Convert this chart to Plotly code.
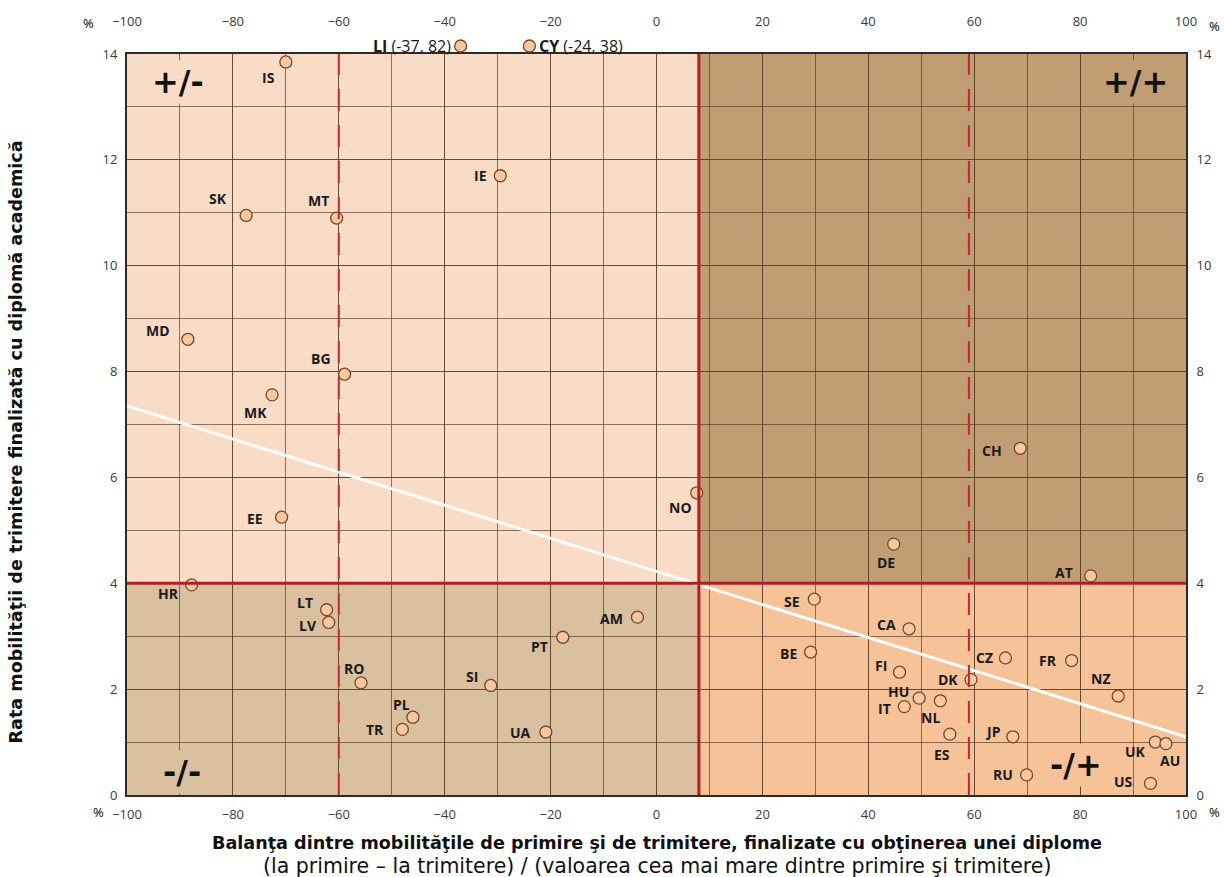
import plotly.graph_objects as go

# --- data -----------------------------------------------------------------
countries = ["IS", "IE", "SK", "MT", "MD", "BG", "MK", "EE", "HR", "LT", "LV",
             "RO", "SI", "PL", "TR", "UA", "AM", "PT", "NO", "SE", "BE", "DE",
             "CH", "AT", "CA", "CZ", "FR", "FI", "DK", "HU", "NL", "IT", "ES",
             "JP", "NZ", "UK", "AU", "RU", "US"]
balance = [-70, -29.5, -77.5, -60.4, -88.5, -58.9, -72.6, -70.8, -87.8, -62.3, -61.9,
           -55.8, -31.3, -46.0, -48.0, -20.9, -3.6, -17.7, 7.6, 29.8, 29.1, 44.8,
           68.7, 82.0, 47.7, 65.9, 78.4, 45.9, 59.4, 49.6, 53.6, 46.8, 55.4,
           67.3, 87.2, 94.2, 96.2, 69.9, 93.3]
send_rate = [13.85, 11.7, 10.95, 10.9, 8.61, 7.95, 7.56, 5.25, 3.97, 3.5, 3.26,
             2.12, 2.07, 1.47, 1.24, 1.19, 3.36, 2.98, 5.71, 3.70, 2.70, 4.74,
             6.55, 4.14, 3.14, 2.59, 2.54, 2.32, 2.18, 1.83, 1.78, 1.67, 1.15,
             1.10, 1.87, 1.00, 0.97, 0.38, 0.22]

# countries whose send rate lies beyond the y range
off_countries = ["LI", "CY"]
off_balance = [-37, -24]
off_send_rate = [82, 38]

# fitted trend line
trend_x = [-100, 100]
trend_y = [7.35, 1.1]

x_ticks = [-100, -80, -60, -40, -20, 0, 20, 40, 60, 80, 100]
y_ticks = [0, 2, 4, 6, 8, 10, 12, 14]

X_RANGE = [-100, 100]
Y_RANGE = [0, 14]
X_SPLIT = 8          # solid vertical divider
Y_SPLIT = 4          # solid horizontal divider
X_DASHED = [-60, 59]  # dashed vertical guides

# --- styling ----------------------------------------------------------------
C_TL = "#F9DCC5"
C_TR = "#C19E72"
C_BL = "#D9C09E"
C_BR = "#F6C398"
RED = "#B31E24"
RED_DASH = "#C3282E"
GRID = "rgba(85,55,30,0.65)"
MARKER_FILL = "#F7C7A0"
MARKER_LINE = "#74492B"
TICK_FONT = dict(family="Open Sans", size=13, color="#3a3a3a")
LABEL_FONT = dict(family="Open Sans", size=14, color="#1a1a1a", weight="bold")

# label offsets in pixels (dx right, dy down) from each marker
label_offset = {
    "IS": (-17, 16), "IE": (-20, 0), "SK": (-28, -17), "MT": (-18, -18),
    "MD": (-30, -9), "BG": (-24, -16), "MK": (-17, 18), "EE": (-27, 1),
    "HR": (-23, 9), "LT": (-22, -7), "LV": (-21, 3), "RO": (-7, -14),
    "SI": (-19, -9), "PL": (-11, -13), "TR": (-27, 0), "UA": (-25, 0),
    "AM": (-26, 1), "PT": (-23, 9), "NO": (-16, 15), "SE": (-22, 2),
    "BE": (-22, 1), "DE": (-8, 18), "CH": (-28, 2), "AT": (-27, -3),
    "CA": (-23, -4), "CZ": (-21, 0), "FR": (-24, 0), "FI": (-19, -7),
    "DK": (-23, 0), "HU": (-21, -7), "NL": (-10, 17), "IT": (-20, 2),
    "ES": (-8, 20), "JP": (-20, -5), "NZ": (-17, -18), "UK": (-20, 9),
    "AU": (4, 17), "RU": (-24, 0), "US": (-27, -2),
}

fig = go.Figure()

# quadrant backgrounds
quads = [
    (X_RANGE[0], X_SPLIT, Y_SPLIT, Y_RANGE[1], C_TL),
    (X_SPLIT, X_RANGE[1], Y_SPLIT, Y_RANGE[1], C_TR),
    (X_RANGE[0], X_SPLIT, Y_RANGE[0], Y_SPLIT, C_BL),
    (X_SPLIT, X_RANGE[1], Y_RANGE[0], Y_SPLIT, C_BR),
]
for x0, x1, y0, y1, col in quads:
    fig.add_shape(type="rect", x0=x0, x1=x1, y0=y0, y1=y1, xref="x", yref="y",
                  fillcolor=col, line=dict(width=0), layer="below")

# dashed guides
for xd in X_DASHED:
    fig.add_shape(type="line", x0=xd, x1=xd, y0=Y_RANGE[0], y1=Y_RANGE[1],
                  xref="x", yref="y", layer="above",
                  line=dict(color=RED_DASH, width=2, dash="22px,14px"))

# solid dividers
fig.add_shape(type="line", x0=X_RANGE[0], x1=X_RANGE[1], y0=Y_SPLIT, y1=Y_SPLIT,
              xref="x", yref="y", layer="above", line=dict(color=RED, width=3))
fig.add_shape(type="line", x0=X_SPLIT, x1=X_SPLIT, y0=Y_RANGE[0], y1=Y_RANGE[1],
              xref="x", yref="y", layer="above", line=dict(color=RED, width=3))

# trend line
fig.add_trace(go.Scatter(x=trend_x, y=trend_y, mode="lines",
                         line=dict(color="white", width=3), hoverinfo="skip",
                         showlegend=False))

# countries
fig.add_trace(go.Scatter(x=balance, y=send_rate, mode="markers",
                         marker=dict(size=12, color=MARKER_FILL,
                                     line=dict(color=MARKER_LINE, width=1.3)),
                         text=countries, hovertemplate="%{text}: %{x}, %{y}<extra></extra>",
                         showlegend=False))

# invisible trace that anchors the mirrored top / right axes
fig.add_trace(go.Scatter(x=X_RANGE, y=Y_RANGE, xaxis="x2", yaxis="y2", mode="markers",
                         marker=dict(opacity=0), hoverinfo="skip", showlegend=False))

annotations = []
for c, xv, yv in zip(countries, balance, send_rate):
    dx, dy = label_offset[c]
    annotations.append(dict(x=xv, y=yv, xref="x", yref="y", text=c, showarrow=False,
                            xshift=dx, yshift=-dy, font=LABEL_FONT))

# off-scale countries: pinned just above the top edge at their x value
for c, xv, yv in zip(off_countries, off_balance, off_send_rate):
    fig.add_shape(type="circle", xref="x", yref="paper", xsizemode="pixel",
                  ysizemode="pixel", xanchor=xv, yanchor=1, x0=-6, x1=6, y0=2, y1=14,
                  fillcolor=MARKER_FILL, line=dict(color=MARKER_LINE, width=1.3),
                  layer="above")
    left = c == "LI"
    annotations.append(dict(
        x=xv, y=1, xref="x", yref="paper", yanchor="middle", yshift=8, showarrow=False,
        text=f"<b>{c}</b> ({xv}, {yv})",
        xanchor="right" if left else "left", xshift=-8 if left else 8,
        font=dict(family="Open Sans", size=16, color="#1a1a1a")))

# quadrant tags
quad_tags = [
    ("+/-", X_RANGE[0], Y_RANGE[1], 51, -28, C_TL),
    ("+/+", X_RANGE[1], Y_RANGE[1], -51, -28, C_TR),
    ("-/-", X_RANGE[0], Y_RANGE[0], 55, 23, C_BL),
    ("-/+", X_RANGE[1], Y_RANGE[0], -110, 30, C_BR),
]
for txt, xv, yv, xs, ys, bg in quad_tags:
    annotations.append(dict(x=xv, y=yv, xref="x", yref="y", text=txt, showarrow=False,
                            xshift=xs, yshift=ys, bgcolor=bg, borderpad=2,
                            font=dict(family="DejaVu Sans", size=32, color="#111",
                                      weight="bold")))

# percent signs at the axis ends
for px, py, anchor in [(-0.0368, 1.0417, "center"), (1.0195, 1.0377, "left"),
                       (-0.0273, -0.0228, "center"), (1.0195, -0.0228, "left")]:
    annotations.append(dict(x=px, y=py, xref="paper", yref="paper", text="%",
                            showarrow=False, xanchor=anchor, yanchor="middle",
                            font=dict(family="Open Sans", size=13, color="#000000")))

# axis titles
annotations += [
    dict(x=-0.1046, y=0.476, xref="paper", yref="paper", showarrow=False, textangle=-90,
         xanchor="center", yanchor="middle",
         text="<b>Rata mobilităţii de trimitere finalizată cu diplomă academică</b>",
         font=dict(family="DejaVu Sans", size=17.6, color="#111")),
    dict(x=0.5, y=-0.0645, xref="paper", yref="paper", showarrow=False,
         xanchor="center", yanchor="middle",
         text="<b>Balanţa dintre mobilităţile de primire şi de trimitere, finalizate cu "
              "obţinerea unei diplome</b>",
         font=dict(family="DejaVu Sans", size=17.6, color="#111")),
    dict(x=0.5, y=-0.0954, xref="paper", yref="paper", showarrow=False,
         xanchor="center", yanchor="middle",
         text="(la primire – la trimitere) / (valoarea cea mai mare dintre primire şi "
              "trimitere)",
         font=dict(family="DejaVu Sans", size=20.5, color="#111")),
]

fig.update_layout(
    width=1224, height=877,
    margin=dict(l=127, r=36, t=51, b=82),
    paper_bgcolor="white", plot_bgcolor="white",
    showlegend=False,
    annotations=annotations,
    xaxis=dict(range=X_RANGE, tickvals=x_ticks, ticks="outside", ticklen=6,
               tickcolor="rgba(0,0,0,0)", tickfont=TICK_FONT,
               showgrid=True, gridcolor=GRID, gridwidth=1,
               minor=dict(dtick=10, tick0=-100, showgrid=True, gridcolor=GRID,
                          gridwidth=1, ticks=""),
               showline=True, mirror=True, linecolor="#2b2b2b", linewidth=2,
               zeroline=False, fixedrange=True),
    xaxis2=dict(range=X_RANGE, overlaying="x", side="top", anchor="y",
                tickvals=x_ticks, ticks="outside", ticklen=22,
                tickcolor="rgba(0,0,0,0)", tickfont=TICK_FONT,
                showgrid=False, zeroline=False, showline=False),
    yaxis=dict(range=Y_RANGE, tickvals=y_ticks, ticks="outside", ticklen=5,
               tickcolor="rgba(0,0,0,0)", tickfont=TICK_FONT,
               showgrid=True, gridcolor=GRID, gridwidth=1,
               minor=dict(dtick=1, tick0=0, showgrid=True, gridcolor=GRID,
                          gridwidth=1, ticks=""),
               showline=True, mirror=True, linecolor="#2b2b2b", linewidth=2,
               zeroline=False, fixedrange=True),
    yaxis2=dict(range=Y_RANGE, overlaying="y", side="right", anchor="x",
                tickvals=y_ticks, ticks="outside", ticklen=7,
                tickcolor="rgba(0,0,0,0)", tickfont=TICK_FONT,
                showgrid=False, zeroline=False, showline=False),
)

fig.write_html("out.html")
